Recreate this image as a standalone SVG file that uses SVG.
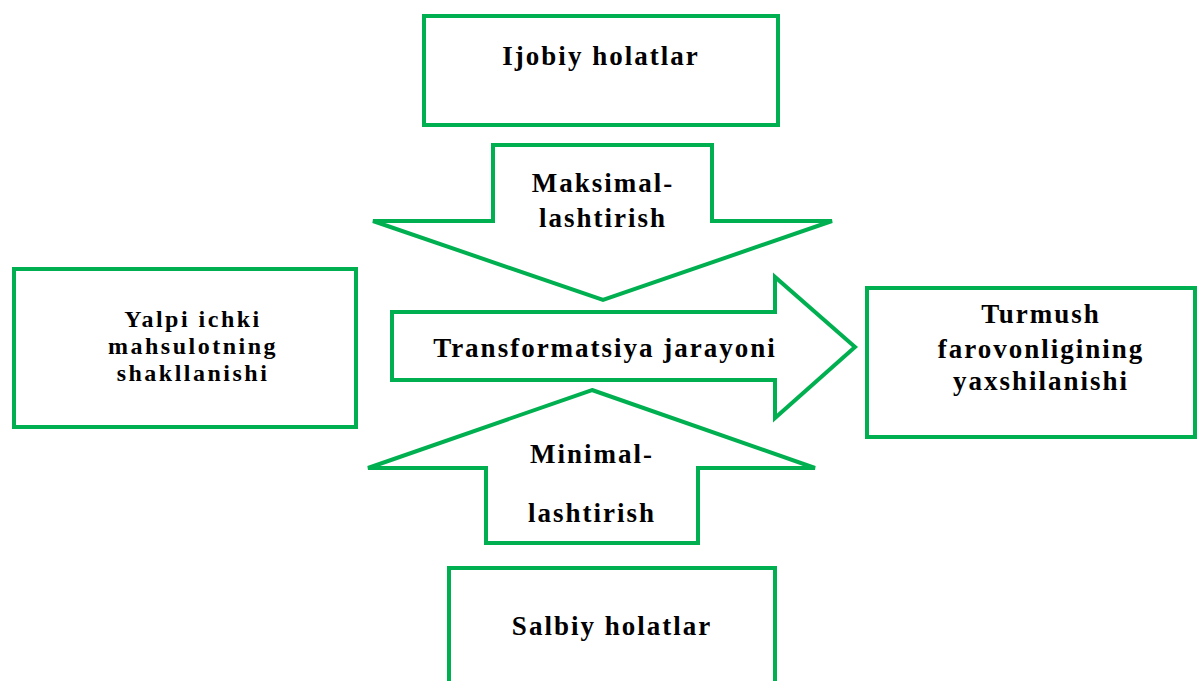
<svg xmlns="http://www.w3.org/2000/svg" width="1197" height="681" viewBox="0 0 1197 681">
<style>
.box{fill:#fff;stroke:#00B050;stroke-width:4}
.arr{fill:#fff;stroke:#00B050;stroke-width:4;stroke-linejoin:miter}
.t{font-family:"Liberation Serif","Times New Roman",serif;font-weight:bold;font-size:27px;fill:#000;text-anchor:middle;letter-spacing:2px}
.s{font-size:24px;letter-spacing:2.5px}
</style>
<rect width="1197" height="681" fill="#fff"/>
<g id="connectors">
<g id="arrow-max">
<path class="arr" d="M493,145 H712 V221 H832 L603,300 L373,221 H493 Z"/>
<text class="t" x="603" y="192">Maksimal-</text>
<text class="t" x="603" y="227">lashtirish</text>
</g>
<g id="arrow-transform">
<path class="arr" d="M392,312 H775 V277 L855,347 L775,418 V380 H392 Z"/>
<text class="t" x="605" y="357">Transformatsiya jarayoni</text>
</g>
<g id="arrow-min">
<path class="arr" d="M592,390 L815,468 H698 V543 H486 V468 H368 Z"/>
<text class="t" x="592" y="463">Minimal-</text>
<text class="t" x="592" y="522">lashtirish</text>
</g>
</g>
<g id="node-ijobiy">
<rect class="box" x="424" y="16" width="354" height="109"/>
<text class="t" x="601" y="65">Ijobiy holatlar</text>
</g>
<g id="node-yalpi">
<rect class="box" x="14" y="269" width="342" height="158"/>
<text class="t s" x="193" y="327">Yalpi ichki</text>
<text class="t s" x="193" y="354">mahsulotning</text>
<text class="t s" x="193" y="381">shakllanishi</text>
</g>
<g id="node-turmush">
<rect class="box" x="867" y="288" width="328" height="149"/>
<text class="t" x="1041" y="323">Turmush</text>
<text class="t" x="1041" y="358">farovonligining</text>
<text class="t" x="1041" y="390">yaxshilanishi</text>
</g>
<g id="node-salbiy">
<rect class="box" x="449" y="568" width="326" height="130"/>
<text class="t" x="612" y="635">Salbiy holatlar</text>
</g>
</svg>
